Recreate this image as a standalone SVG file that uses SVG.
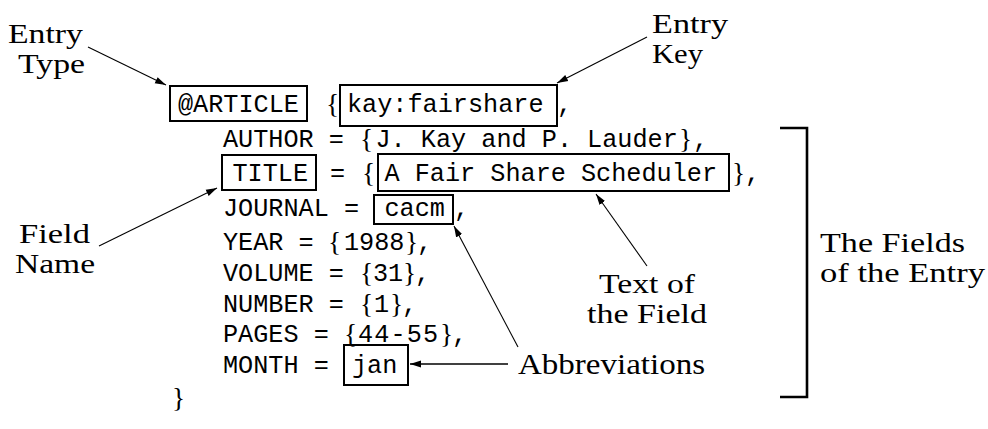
<svg xmlns="http://www.w3.org/2000/svg" width="988" height="429" viewBox="0 0 988 429">
<defs>
<style>
.tt{font-family:"Liberation Mono","DejaVu Sans Mono",monospace;font-size:25.2px;fill:#000}
.br{font-family:"Liberation Serif","DejaVu Serif",serif;font-size:27.5px;fill:#000}
.rm{font-family:"Liberation Serif","DejaVu Serif",serif;font-size:27px;fill:#000}
.rm1{font-family:"Liberation Serif","DejaVu Serif",serif;font-size:30px;fill:#000}
.box{fill:none;stroke:#000;stroke-width:2}
.arr{fill:none;stroke:#000;stroke-width:1.1;marker-end:url(#ah)}
.bracket{fill:none;stroke:#000;stroke-width:2.6}
</style>
<marker id="ah" markerUnits="userSpaceOnUse" markerWidth="12" markerHeight="8" refX="11" refY="4" orient="auto">
<path d="M0,0.6 L11,4 L0,7.4 Z" fill="#000"/>
</marker>
</defs>
<rect width="988" height="429" fill="#fff"/>

<g id="code">
<g id="line-article">
<rect class="box" x="170" y="86" width="137" height="35"/>
<text class="tt" x="178" y="112">@ARTICLE</text>
<text class="br" x="326" y="113">{</text>
<rect class="box" x="340" y="85" width="217" height="41"/>
<text class="tt" x="347" y="112">kay:fairshare</text>
<text class="tt" x="557" y="112">,</text>
</g>
<g id="line-author">
<text class="tt" x="223" y="146.5">AUTHOR =</text>
<text class="br" x="360" y="147.5">{</text>
<text class="tt" x="375.5" y="146.5">J. Kay and P. Lauder</text>
<text class="br" x="679" y="147.5">}</text>
<text class="tt" x="693" y="146.5">,</text>
</g>
<g id="line-title">
<rect class="box" x="222" y="155" width="94" height="35"/>
<text class="tt" x="232.5" y="181">TITLE</text>
<text class="tt" x="330" y="181">=</text>
<text class="br" x="362" y="182">{</text>
<rect class="box" x="378" y="154" width="351" height="37"/>
<text class="tt" x="384.5" y="181">A Fair Share Scheduler</text>
<text class="br" x="732" y="182">}</text>
<text class="tt" x="745" y="181">,</text>
</g>
<g id="line-journal">
<text class="tt" x="223" y="215.5">JOURNAL =</text>
<rect class="box" x="374" y="195" width="79" height="29"/>
<text class="tt" x="384.5" y="215.5">cacm</text>
<text class="tt" x="454" y="215.5">,</text>
</g>
<g id="line-year">
<text class="tt" x="223" y="249.5">YEAR =</text>
<text class="br" x="328" y="250.5">{</text>
<text class="tt" x="344" y="249.5">1988</text>
<text class="br" x="405" y="250.5">}</text>
<text class="tt" x="417" y="249.5">,</text>
</g>
<g id="line-volume">
<text class="tt" x="223" y="280.5">VOLUME =</text>
<text class="br" x="360" y="281.5">{</text>
<text class="tt" x="373" y="280.5">31</text>
<text class="br" x="403" y="281.5">}</text>
<text class="tt" x="415" y="280.5">,</text>
</g>
<g id="line-number">
<text class="tt" x="223" y="311.5">NUMBER =</text>
<text class="br" x="360" y="312.5">{</text>
<text class="tt" x="374" y="311.5">1</text>
<text class="br" x="390" y="312.5">}</text>
<text class="tt" x="402" y="311.5">,</text>
</g>
<g id="line-pages">
<text class="tt" x="223" y="342">PAGES =</text>
<text class="br" x="344" y="343">{</text>
<text class="tt" x="358" y="342" textLength="80" lengthAdjust="spacing">44-55</text>
<text class="br" x="440" y="343">}</text>
<text class="tt" x="452" y="342">,</text>
</g>
<g id="line-month">
<text class="tt" x="223" y="372.5">MONTH =</text>
<rect class="box" x="344" y="345" width="64" height="40"/>
<text class="tt" x="352" y="372.5">jan</text>
</g>
<g id="line-close">
<text class="br" x="172" y="407">}</text>
</g>
</g>

<g id="label-entry-type">
<text class="rm" x="8" y="42.5" textLength="75" lengthAdjust="spacingAndGlyphs">Entry</text>
<text class="rm" x="18" y="72.5" textLength="67" lengthAdjust="spacingAndGlyphs">Type</text>
</g>
<g id="label-entry-key">
<text class="rm" x="652" y="33" textLength="76" lengthAdjust="spacingAndGlyphs">Entry</text>
<text class="rm" x="652" y="63" textLength="51" lengthAdjust="spacingAndGlyphs">Key</text>
</g>
<g id="label-field-name">
<text class="rm" x="19" y="243" textLength="71" lengthAdjust="spacingAndGlyphs">Field</text>
<text class="rm" x="15" y="273" textLength="80" lengthAdjust="spacingAndGlyphs">Name</text>
</g>
<g id="label-text-of-field">
<text class="rm" x="599" y="293" textLength="96" lengthAdjust="spacingAndGlyphs">Text of</text>
<text class="rm" x="587" y="323" textLength="120" lengthAdjust="spacingAndGlyphs">the Field</text>
</g>
<g id="label-fields">
<text class="rm" x="820" y="252" textLength="145" lengthAdjust="spacingAndGlyphs">The Fields</text>
<text class="rm" x="820" y="282" textLength="165" lengthAdjust="spacingAndGlyphs">of the Entry</text>
</g>
<g id="label-abbreviations">
<text class="rm1" x="518" y="374" textLength="187" lengthAdjust="spacingAndGlyphs">Abbreviations</text>
</g>

<g id="connectors">
<line class="arr" x1="88" y1="47" x2="166" y2="85"/>
<line class="arr" x1="647" y1="37" x2="557" y2="83"/>
<line class="arr" x1="99" y1="246" x2="217" y2="188"/>
<line class="arr" x1="647" y1="266" x2="596" y2="194"/>
<line class="arr" x1="518" y1="347" x2="454" y2="226"/>
<line class="arr" x1="508" y1="364" x2="410" y2="364" style="stroke-width:1.6"/>
<path class="bracket" d="M780,128 H807 V397 H780"/>
</g>
</svg>
